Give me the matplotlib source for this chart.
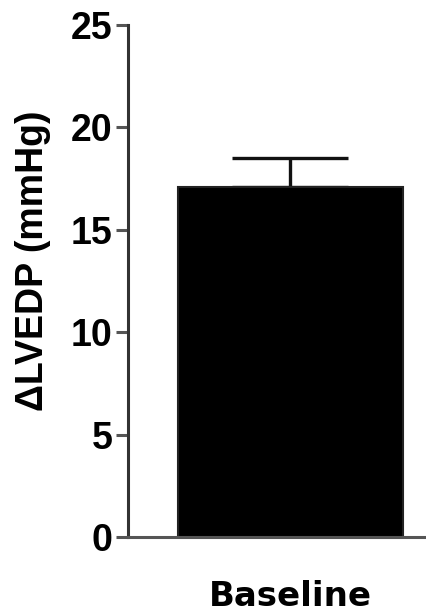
import matplotlib
matplotlib.use("Agg")
import matplotlib.pyplot as plt

# data
groups = ["Baseline"]
means = [17.1]
errs = [1.4]
yticks = [0, 5, 10, 15, 20, 25]

plt.rcParams['font.family'] = ['Liberation Sans', 'DejaVu Sans']

fig = plt.figure(figsize=(4.27, 6.13), dpi=100)
ax = fig.add_axes([128/427, 1-537/613, 299/427, 512/613])

x = list(range(len(groups)))
ax.bar(x, means, width=1.0, color='black', edgecolor='#222222', linewidth=1.5, zorder=2)
# only the upper half of the error bar
ax.errorbar(x, means, yerr=[[0]*len(errs), errs], fmt='none', ecolor='#111111',
            elinewidth=2.4, capsize=42, capthick=2.4, zorder=1)

ax.set_xlim(-0.722, 0.607)
ax.set_ylim(0, 25)
ax.set_yticks(yticks)
ax.set_yticklabels([str(t) for t in yticks], fontsize=27, fontweight='bold')
ax.set_xticks(x)
ax.set_xticklabels(groups, fontsize=24.5, fontweight='bold', family='DejaVu Sans')

for s in ['top', 'right']:
    ax.spines[s].set_visible(False)
for s in ['left', 'bottom']:
    ax.spines[s].set_linewidth(2.2)
    ax.spines[s].set_color('#333333')
ax.spines['bottom'].set_color('#555555')

ax.tick_params(axis='y', length=9, width=2.2, color='#555555', pad=2)
ax.tick_params(axis='x', length=0, pad=31)

fig.text(33/427, 1-261/613, "ΔLVEDP (mmHg)", rotation=90, ha='center', va='center',
         fontsize=27, fontweight='bold')

fig.savefig("out.png", dpi=100)
